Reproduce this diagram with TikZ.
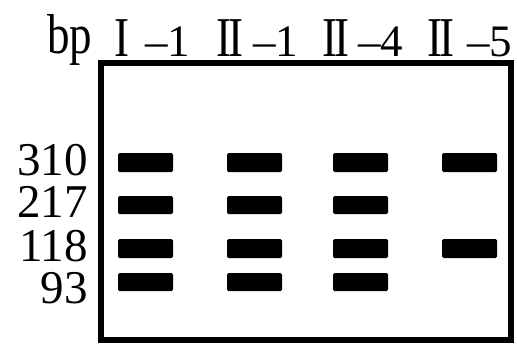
\documentclass[tikz,border=0pt]{standalone}
\usepackage{fontspec}
\setmainfont{Liberation Serif}
\newcommand{\tallx}[1]{\scalebox{1}[1.25]{#1}}
\newcommand{\romII}{\tallx{I\kern-3pt I}}
\begin{document}
\begin{tikzpicture}[x=1pt,y=-1pt]
\tikzset{
  band/.style={fill=black, rounded corners=1.5pt},
  lbl/.style={inner sep=0, anchor=base east, font=\fontsize{47}{47}\selectfont},
  hdr/.style={inner sep=0, anchor=base west, font=\fontsize{45}{45}\selectfont},
  gel/.style={draw=black, line width=5.5pt},
}
\useasboundingbox (0,0) rectangle (517,343);
\fill[white] (0,0) rectangle (517,343);
% gel frame
\draw[gel] (101,63) rectangle (511,340);
% header
\node[hdr] (bp) at (47,53) {\tallx{bp}};
\node[hdr] (r1) at (114,56) {\tallx{I}};
\node[hdr] (n1) at (145,56) {–1};
\node[hdr] (r2) at (216,56) {\romII};
\node[hdr] (n2) at (253,56) {–1};
\node[hdr] (r3) at (322,56) {\romII};
\node[hdr] (n3) at (358,56) {–4};
\node[hdr] (r4) at (427,56) {\romII};
\node[hdr] (n4) at (467,56) {–5};
% size labels
\node[lbl] (s310) at (88,175) {310};
\node[lbl] (s217) at (88,217) {217};
\node[lbl] (s118) at (88,261) {118};
\node[lbl] (s93)  at (88,303) {93};
% bands
\foreach \x in {118,227,333,442} {
  \fill[band] (\x,153) rectangle ++(55,19);
  \fill[band] (\x,239) rectangle ++(55,19);
}
\foreach \x in {118,227,333} {
  \fill[band] (\x,196) rectangle ++(55,18);
  \fill[band] (\x,273) rectangle ++(55,18);
}
\end{tikzpicture}
\end{document}
